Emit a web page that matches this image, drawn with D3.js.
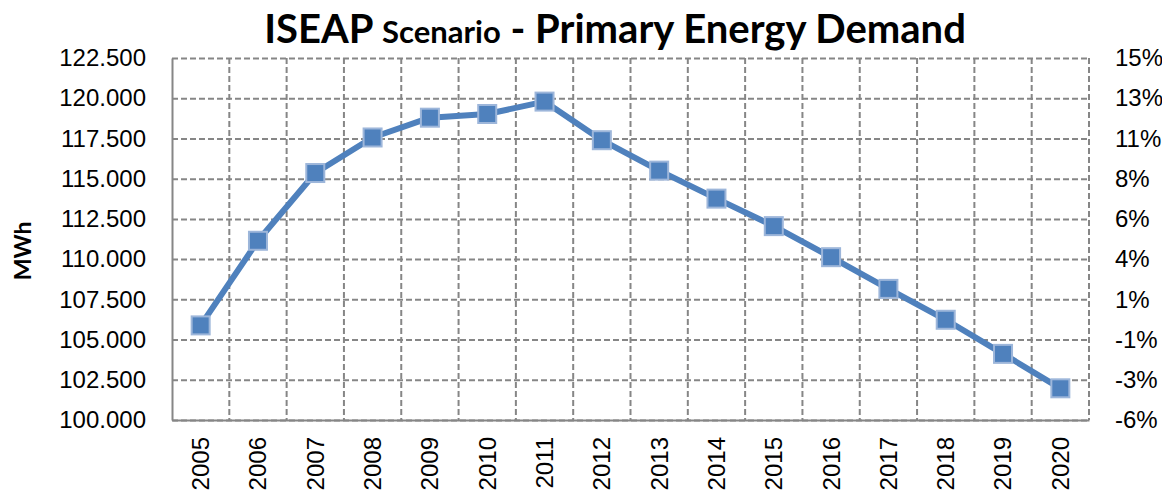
<!DOCTYPE html>
<html>
<head>
	<meta charset="utf-8">
	<title>ISEAP Scenario - Primary Energy Demand</title>
	<script src="https://d3js.org/d3.v7.min.js"></script>
	<style>
		body{
			margin: 0;
			background: #fff;
		}
		svg{
			display: block;
			font-family: Lato, "Open Sans", sans-serif;
		}
		.axis path, .axis line{
			stroke: #868686;
		}
		.grid line{
			stroke: #868686;
			stroke-width: 2;
			stroke-dasharray: 6,3;
		}
		.grid path{
			display: none;
		}
	</style>
</head>
<body>
	<script>
		// data
		var years = ['2005','2006','2007','2008','2009','2010','2011','2012','2013','2014','2015','2016','2017','2018','2019','2020']
		var demand = [105.88, 111.14, 115.35, 117.56, 118.79, 119.02, 119.79, 117.39, 115.5, 113.76, 112.05, 110.12, 108.15, 106.23, 104.11, 101.97]
		var leftTicks = [100, 102.5, 105, 107.5, 110, 112.5, 115, 117.5, 120, 122.5]
		var leftLabels = ['100.000','102.500','105.000','107.500','110.000','112.500','115.000','117.500','120.000','122.500']
		var rightLabels = ['-6%','-3%','-1%','1%','4%','6%','8%','11%','13%','15%']

		var margin = {top: 58, right: 73, bottom: 71, left: 172}
		var W = 1162, H = 491
		var width = W - margin.left - margin.right
		var height = H - margin.top - margin.bottom

		const svg = d3.select('body').append('svg')
					  .attr('width', W)
					  .attr('height', H)

		svg.append('text')
		   .attr('x', 615)
		   .attr('y', 43)
		   .attr('text-anchor', 'middle')
		   .style('font-weight', 'bold')
		   .style('font-size', '40px')
		   .style('fill', '#000')
		   .call(t => {
			   t.append('tspan').text('ISEAP ')
			   t.append('tspan').style('font-size', '31px').text('Scenario')
			   t.append('tspan').text(' - Primary Energy Demand')
		   })

		svg.append('text')
		   .attr('transform', 'translate(31,' + (margin.top + height / 2 + 12) + ') rotate(-90)')
		   .attr('text-anchor', 'middle')
		   .style('font-weight', 'bold')
		   .style('font-size', '23px')
		   .text('MWh')

		const g = svg.append('g')
					 .attr('transform', 'translate(' + margin.left + ',' + margin.top + ')')

		const xScale = d3.scaleBand().domain(years).range([0, width]).padding(0)
		const yScale = d3.scaleLinear().domain([100, 122.5]).range([height, 0])

		// horizontal gridlines
		g.append('g')
		 .attr('class', 'grid')
		 .call(d3.axisLeft(yScale).tickValues(leftTicks).tickSize(-width).tickFormat(''))

		// vertical gridlines at category boundaries
		g.append('g')
		 .attr('class', 'grid')
		 .selectAll('line')
		 .data(years)
		 .enter()
		 .append('line')
		 .attr('x1', d => xScale(d) + xScale.bandwidth())
		 .attr('x2', d => xScale(d) + xScale.bandwidth())
		 .attr('y1', 0)
		 .attr('y2', height)

		// left axis
		const yAxis = d3.axisLeft(yScale).tickValues(leftTicks).tickSize(0).tickPadding(26)
						.tickFormat((d, i) => leftLabels[i])
		g.append('g')
		 .attr('class', 'axis')
		 .call(yAxis)
		 .call(a => a.select('.domain').attr('stroke-width', 2))
		 .selectAll('text')
		 .style('font-size', '24px')
		 .style('fill', '#000')

		// right axis (labels only)
		const rAxis = d3.axisRight(yScale).tickValues(leftTicks).tickSize(0).tickPadding(26)
						.tickFormat((d, i) => rightLabels[i])
		g.append('g')
		 .attr('class', 'axis')
		 .attr('transform', 'translate(' + width + ',0)')
		 .call(rAxis)
		 .call(a => a.select('.domain').remove())
		 .selectAll('text')
		 .style('font-size', '24px')
		 .style('fill', '#000')

		// bottom axis
		const xAxis = d3.axisBottom(xScale).tickSize(0).tickPadding(0)
		g.append('g')
		 .attr('class', 'axis')
		 .attr('transform', 'translate(0,' + height + ')')
		 .call(xAxis)
		 .call(a => a.select('.domain').attr('stroke-width', 2))
		 .selectAll('text')
		 .attr('transform', 'rotate(-90)')
		 .attr('x', -17)
		 .attr('y', 0)
		 .attr('dy', '0.35em')
		 .attr('text-anchor', 'end')
		 .style('font-size', '24px')
		 .style('fill', '#000')

		const cx = (d, i) => xScale(years[i]) + xScale.bandwidth() / 2
		const line = d3.line()
					   .x(cx)
					   .y(d => yScale(d))

		g.append('path')
		 .datum(demand)
		 .attr('d', line)
		 .attr('fill', 'none')
		 .attr('stroke', '#4F81BD')
		 .attr('stroke-width', 6)
		 .attr('stroke-linejoin', 'round')

		const s = 18
		g.selectAll('rect.marker')
		 .data(demand)
		 .enter()
		 .append('rect')
		 .attr('class', 'marker')
		 .attr('x', (d, i) => cx(d, i) - s / 2)
		 .attr('y', d => yScale(d) - s / 2)
		 .attr('width', s)
		 .attr('height', s)
		 .attr('fill', '#4F81BD')
		 .attr('stroke', '#9DB6DA')
		 .attr('stroke-width', 2)
	</script>
</body>
</html>
